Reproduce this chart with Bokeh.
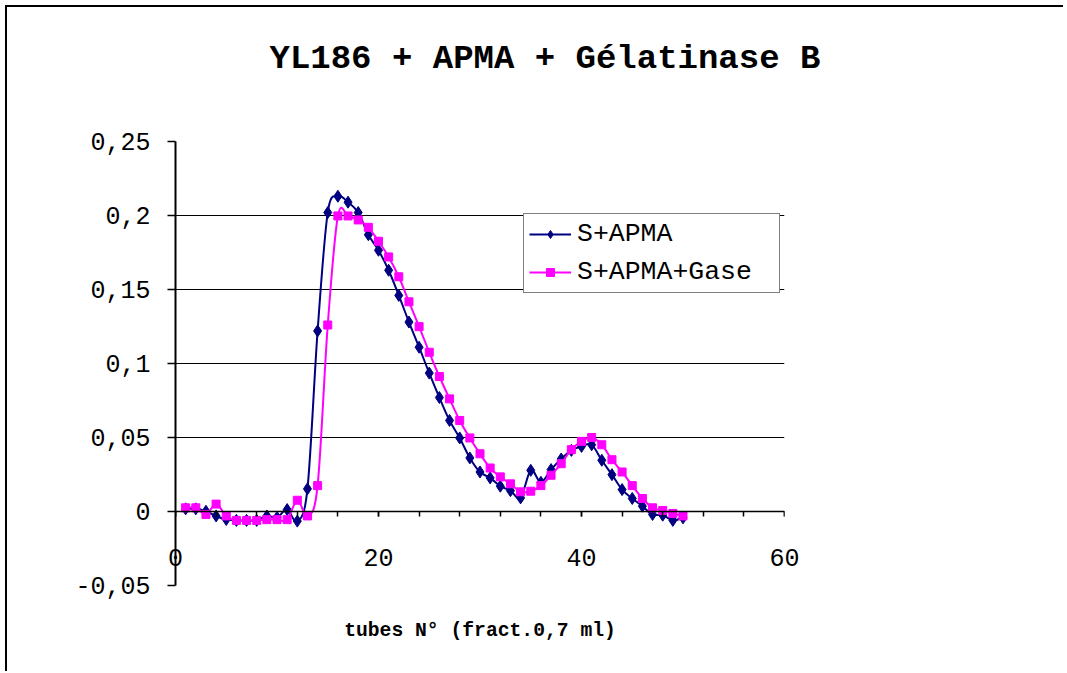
from bokeh.plotting import figure
from bokeh.models import (FixedTicker, CustomJSTickFormatter, Legend, LegendItem,
                          Range1d, Title, ColumnDataSource, LinearAxis)
from bokeh.embed import file_html
from bokeh.resources import INLINE

# ---------------- data ----------------
tubes = list(range(1, 51))
s_apma = [0.0018, 0.0018, 0.0002, -0.003, -0.0054, -0.006, -0.006, -0.006, -0.003, -0.004,
          0.0013, -0.0065, 0.0153, 0.122, 0.202, 0.213, 0.209, 0.202, 0.187, 0.1765,
          0.163, 0.146, 0.128, 0.111, 0.0935, 0.077, 0.0615, 0.0497, 0.0362, 0.0267,
          0.0227, 0.0171, 0.0141, 0.0092, 0.0278, 0.0197, 0.0283, 0.0355, 0.0413, 0.044,
          0.0451, 0.0346, 0.0249, 0.0148, 0.0088, 0.0036, -0.002, -0.0025, -0.006, -0.0043]
s_apma_gase = [0.0025, 0.0025, -0.002, 0.005, -0.003, -0.006, -0.006, -0.006, -0.0055, -0.0055,
               -0.0055, 0.0076, -0.003, 0.0175, 0.126, 0.1997, 0.1997, 0.197, 0.192, 0.1826,
               0.172, 0.1586, 0.1417, 0.1249, 0.1076, 0.0912, 0.0761, 0.0615, 0.0497, 0.039,
               0.0294, 0.0234, 0.0187, 0.0133, 0.0137, 0.0175, 0.0245, 0.0323, 0.0418, 0.0474,
               0.05, 0.0451, 0.035, 0.0267, 0.0175, 0.0088, 0.0025, 0.0007, -0.0013, -0.003]
series_names = ["S+APMA", "S+APMA+Gase"]
title_text = "YL186 + APMA + Gélatinase B"
x_label = "tubes N° (fract.0,7 ml)"
y_ticks = [-0.05, 0, 0.05, 0.1, 0.15, 0.2, 0.25]
x_ticks = [0, 20, 40, 60]
x_minor_ticks = list(range(0, 61, 4))

FONT = "Liberation Mono"


def smooth_segments(xs, ys):
    """Catmull-Rom style Bezier control points (Excel-like smoothed line)."""
    n = len(xs)
    d = dict(x0=[], y0=[], x1=[], y1=[], cx0=[], cy0=[], cx1=[], cy1=[])
    for i in range(n - 1):
        a = i - 1 if i > 0 else i
        b = i + 2 if i + 2 < n else i + 1
        d["x0"].append(xs[i]); d["y0"].append(ys[i])
        d["x1"].append(xs[i + 1]); d["y1"].append(ys[i + 1])
        d["cx0"].append(xs[i] + (xs[i + 1] - xs[a]) / 6.0)
        d["cy0"].append(ys[i] + (ys[i + 1] - ys[a]) / 6.0)
        d["cx1"].append(xs[i + 1] - (xs[b] - xs[i]) / 6.0)
        d["cy1"].append(ys[i + 1] - (ys[b] - ys[i]) / 6.0)
    return ColumnDataSource(d)


p = figure(width=1058, height=666, x_range=Range1d(0, 60), y_range=Range1d(-0.05, 0.25),
           output_backend="svg", toolbar_location=None,
           min_border_left=168, min_border_top=134, min_border_right=281, min_border_bottom=87)
p.styles = {"margin-left": "5px", "margin-top": "5px",
            "border-top": "2px solid black", "border-left": "2px solid black"}
p.outline_line_color = None
p.background_fill_color = "white"
p.border_fill_color = "white"

# blank spacer title next to the frame, then the real title above it
p.add_layout(Title(text=" ", standoff=0, text_font=FONT, text_font_size="34px",
                   text_font_style="bold"), "above")
p.add_layout(Title(text=title_text, align="left", offset=94, standoff=48,
                   text_font=FONT, text_font_size="34px", text_font_style="bold",
                   text_color="black"), "above")

# grid
p.xgrid.visible = False
p.ygrid.ticker = FixedTicker(ticks=y_ticks)
p.ygrid.grid_line_color = "black"
p.ygrid.grid_line_width = 1

# y axis
p.yaxis.ticker = FixedTicker(ticks=y_ticks)
p.yaxis.formatter = CustomJSTickFormatter(code="""
    let s = tick.toFixed(2);
    s = s.replace(/0+$/, '').replace(/\\.$/, '');
    if (s === '-0') s = '0';
    return s.replace('.', ',');
""")
p.yaxis.axis_line_color = "black"
p.yaxis.axis_line_width = 2
p.yaxis.major_tick_out = 8
p.yaxis.major_tick_in = 0
p.yaxis.major_tick_line_color = "black"
p.yaxis.major_tick_line_width = 1.5
p.yaxis.minor_tick_line_color = None
p.yaxis.major_label_standoff = 17
p.yaxis.major_label_text_font = FONT
p.yaxis.major_label_text_font_size = "25px"
p.yaxis.major_label_text_color = "black"

# x axis line + ticks, crossing at y = 0
p.xaxis.fixed_location = 0
p.xaxis.ticker = FixedTicker(ticks=x_ticks, minor_ticks=x_minor_ticks)
p.xaxis.axis_line_color = "black"
p.xaxis.axis_line_width = 1.5
p.xaxis.major_tick_out = 5
p.xaxis.major_tick_in = 0
p.xaxis.minor_tick_out = 5
p.xaxis.minor_tick_in = 0
p.xaxis.major_tick_line_color = "black"
p.xaxis.minor_tick_line_color = "black"
p.xaxis.major_tick_line_width = 1.5
p.xaxis.minor_tick_line_width = 1.5
p.xaxis.major_label_text_font_size = "0px"
p.xaxis.major_label_text_alpha = 0

# x tick labels (drawn by a second, line-less axis pulled up next to y = 0)
lab_axis = LinearAxis(ticker=FixedTicker(ticks=x_ticks, minor_ticks=[]),
                      axis_line_color=None, major_tick_line_color=None,
                      minor_tick_line_color=None, major_tick_out=0, major_tick_in=0,
                      minor_tick_out=0, minor_tick_in=0, major_label_standoff=-37,
                      major_label_text_font=FONT, major_label_text_font_size="25px",
                      major_label_text_color="black")
p.add_layout(lab_axis, "below")

p.add_layout(Title(text=x_label, align="center", standoff=64,
                   text_font=FONT, text_font_size="19.7px", text_font_style="bold",
                   text_color="black"), "below")

# series
colors = ["#000080", "#FF00FF"]
markers = ["diamond", "square"]
sizes = [12, 8]
items = []
for name, ys, col, mk, sz in zip(series_names, [s_apma, s_apma_gase], colors, markers, sizes):
    src = smooth_segments(tubes, ys)
    br = p.bezier(x0="x0", y0="y0", x1="x1", y1="y1", cx0="cx0", cy0="cy0",
                  cx1="cx1", cy1="cy1", source=src, line_color=col, line_width=2)
    sr = p.scatter(tubes, ys, marker=mk, size=sz, fill_color=col, line_color=col)
    items.append(LegendItem(label=name, renderers=[br, sr]))

legend = Legend(items=items, location=(348, 292), orientation="vertical",
                border_line_color="black", border_line_width=1.5,
                background_fill_color="white", background_fill_alpha=1,
                label_text_font=FONT, label_text_font_size="26.5px", label_text_color="black",
                glyph_width=42, glyph_height=20, label_height=30, spacing=8,
                padding=5, margin=0, label_standoff=6, label_width=197)
p.add_layout(legend, "center")

open("out.html", "w").write(file_html(p, INLINE))
